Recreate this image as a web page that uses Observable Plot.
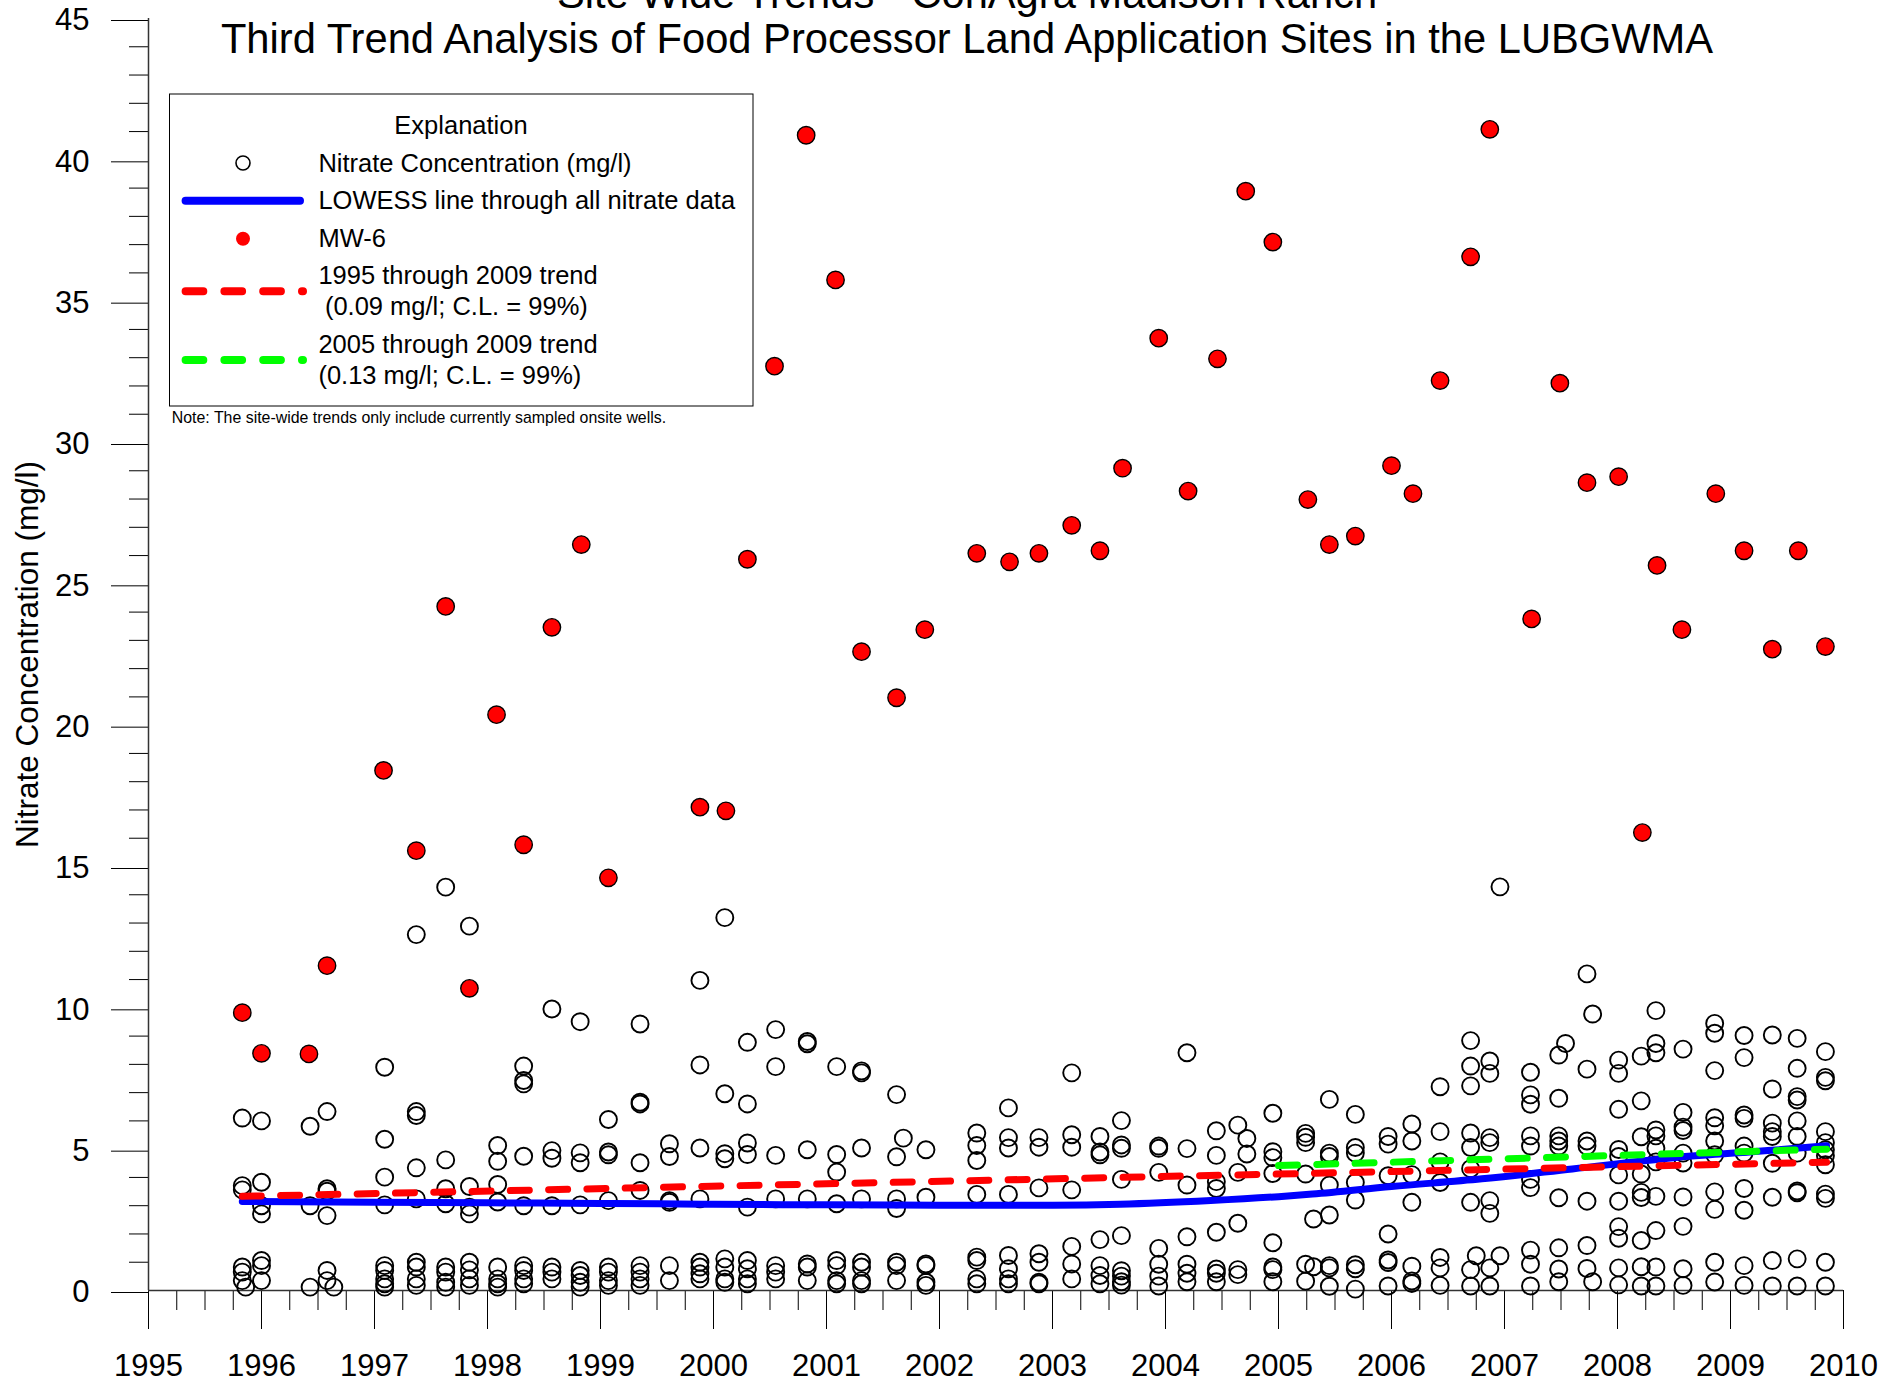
<!DOCTYPE html>
<html><head><meta charset="utf-8">
<script src="https://cdn.jsdelivr.net/npm/d3@7"></script>
<script src="https://cdn.jsdelivr.net/npm/@observablehq/plot@0.6"></script>
<style>html,body{margin:0;padding:0;background:#fff;} svg{display:block;}</style>
</head><body>
<script>
const FONT = "'Liberation Sans', Arial, Helvetica, sans-serif";

// ---- tick labels / axes
const yearTicks = d3.range(1995, 2011);
const quarterTicks = d3.range(1995, 2010.001, 0.25).filter(d => d % 1 !== 0);
const yMajorTicks = d3.range(0, 46, 5);
const yMinorTicks = d3.range(0, 46).filter(d => d % 5 !== 0);

// ---- all-wells nitrate concentrations (mg/l), grouped by sample date
const nitrateDates = [1995.83,1995.86,1996.00,1996.43,1996.58,1996.64,1997.09,1997.37,1997.63,1997.84,
  1998.09,1998.32,1998.57,1998.82,1999.07,1999.35,1999.61,1999.88,2000.10,2000.30,2000.55,2000.83,
  2001.09,2001.31,2001.62,2001.68,2001.88,2002.33,2002.61,2002.88,2003.17,2003.42,2003.61,2003.94,
  2004.19,2004.45,2004.64,2004.72,2004.95,2005.24,2005.31,2005.45,2005.68,2005.97,2006.18,2006.43,
  2006.70,2006.75,2006.87,2006.96,2007.23,2007.48,2007.54,2007.73,2007.78,2008.01,2008.21,2008.34,
  2008.58,2008.86,2009.12,2009.37,2009.59,2009.84];
const nitrateValues = [
  [6.10,3.71,3.56,0.83,0.65,0.35],
  [0.12],
  [6.0,3.83,3.0,2.71,1.06,0.88,0.35],
  [5.81,3.0,0.12],
  [6.33,3.60,3.51,2.65,0.71,0.35],
  [0.12],
  [7.90,5.35,4.01,3.03,0.88,0.71,0.41,0.24,0.12],
  [12.59,6.33,6.19,4.34,3.24,1.0,0.83,0.41,0.18],
  [14.27,4.62,3.60,3.07,0.83,0.65,0.29,0.12],
  [12.89,3.68,2.95,2.71,1.0,0.73,0.41,0.18],
  [5.13,4.57,3.75,3.13,0.83,0.41,0.24,0.12],
  [7.94,7.43,7.31,4.75,3.0,0.88,0.71,0.41,0.24],
  [9.96,4.95,4.68,3.0,0.83,0.65,0.41],
  [9.51,4.87,4.52,3.03,0.71,0.53,0.29,0.12],
  [6.05,4.9,4.8,3.18,0.83,0.65,0.35,0.18],
  [9.43,6.66,6.6,4.52,3.54,0.88,0.65,0.41,0.18],
  [5.19,4.74,3.18,3.12,0.88,0.35],
  [10.97,7.98,5.04,3.24,1.0,0.83,0.59,0.41],
  [13.19,6.96,4.84,4.66,1.12,0.83,0.41,0.29],
  [8.78,6.6,5.22,4.81,2.95,1.06,0.77,0.41,0.24],
  [9.23,7.92,4.78,3.24,0.88,0.65,0.41],
  [8.81,8.73,4.98,3.24,0.94,0.83,0.35],
  [7.92,4.81,4.19,3.07,1.06,0.88,0.35,0.24],
  [7.77,7.7,5.04,3.24,1.0,0.83,0.35,0.24],
  [6.93,4.73,3.24,2.9,1.0,0.88,0.35],
  [5.39],
  [4.98,3.3,0.94,0.88,0.29,0.18],
  [5.57,5.13,4.6,3.4,1.18,1.06,0.41,0.24],
  [6.46,5.41,5.04,3.4,1.24,0.77,0.41,0.24],
  [5.41,5.07,3.63,1.3,1.0,0.29,0.24],
  [7.7,5.51,5.07,3.56,1.56,0.94,0.41],
  [5.45,4.9,4.8,1.8,0.88,0.53,0.24],
  [6.01,5.15,5.03,3.93,1.94,0.70,0.51,0.31,0.19],
  [5.11,5.03,4.18,1.49,0.93,0.51,0.16],
  [8.41,5.02,3.73,1.9,0.93,0.61,0.31],
  [5.65,4.78,3.85,3.61,2.06,0.76,0.61,0.31],
  [5.85,4.18,2.38,0.74,0.56],
  [5.38,4.83],
  [6.27,4.91,4.7,4.14,1.69,0.83,0.74,0.31],
  [5.56,5.42,5.23,4.12,0.93,0.33],
  [2.53,0.84],
  [6.76,4.86,4.74,3.73,2.67,0.88,0.80,0.15],
  [6.23,5.06,4.86,3.82,3.2,0.91,0.77,0.05],
  [5.45,5.18,4.06,2.0,1.08,0.99,0.16],
  [5.89,5.29,4.1,3.12,0.86,0.34,0.25],
  [7.21,5.62,4.55,3.82,1.17,0.8,0.18],
  [8.84,7.94,7.24,5.57,5.06,4.31,3.12,0.74,0.16],
  [1.23],
  [8.12,7.68,5.41,5.23,3.18,2.73,0.80,0.16],
  [14.28,1.23],
  [7.72,6.92,6.59,5.47,5.11,3.93,3.64,1.43,0.93,0.16],
  [8.33,6.8,5.47,5.29,5.11,3.28,1.51,0.76,0.31],
  [8.74],
  [11.2,7.83,5.29,5.11,3.16,1.59,0.78],
  [9.78,0.31],
  [8.15,7.68,6.41,4.99,4.74,4.09,3.16,2.26,1.85,0.80,0.2],
  [8.29,6.71,5.44,4.12,3.47,3.29,1.77,0.84,0.16],
  [9.9,8.74,8.41,5.68,5.47,5.03,4.55,3.33,2.12,0.83,0.16],
  [8.54,6.3,5.78,5.66,4.86,4.51,3.31,2.27,0.77,0.18],
  [9.45,9.1,7.78,6.11,5.83,5.29,4.8,3.49,2.87,1.0,0.3],
  [9.02,8.24,6.21,6.09,5.11,4.86,3.61,2.84,0.88,0.18],
  [9.04,7.13,5.92,5.62,5.45,4.5,3.3,1.06,0.16],
  [8.92,7.86,6.86,6.74,6.0,5.45,4.86,3.52,3.46,1.12,0.16],
  [8.45,7.54,7.42,5.62,5.23,4.98,4.77,4.45,3.41,3.26,1.0,0.16]
];

// ---- MW-6
const mw6Dates = [1995.83,1996.00,1996.42,1996.58,1997.08,1997.37,1997.63,1997.84,1998.08,1998.32,
  1998.57,1998.83,1999.07,1999.88,2000.11,2000.30,2000.54,2000.82,2001.08,2001.31,2001.62,2001.87,
  2002.33,2002.62,2002.88,2003.17,2003.42,2003.62,2003.94,2004.20,2004.46,2004.71,2004.95,2005.26,
  2005.45,2005.68,2006.00,2006.19,2006.43,2006.70,2006.87,2007.24,2007.49,2007.73,2008.01,2008.22,
  2008.35,2008.57,2008.87,2009.12,2009.37,2009.60,2009.84];
const mw6Values = [9.83,8.39,8.37,11.49,18.4,15.56,24.2,10.69,20.37,15.77,
  23.46,26.39,14.6,17.1,16.97,25.87,32.7,40.87,35.75,22.6,20.97,23.38,
  26.08,25.78,26.08,27.07,26.17,29.09,33.69,28.28,32.96,38.89,37.09,27.98,
  26.39,26.69,29.18,28.19,32.19,36.57,41.08,23.76,32.1,28.58,28.79,16.2,
  25.65,23.38,28.19,26.17,22.69,26.17,22.78];

// ---- LOWESS line through all nitrate data
const lowessDates  = [1995.83,1997.0,1998.0,1999.0,2000.0,2001.0,2002.0,2003.0,2003.6,2004.4,2005.0,2005.3,2006.0,2006.8,2007.6,2008.5,2009.4,2009.85];
const lowessValues = [3.15,3.12,3.10,3.08,3.05,3.03,3.02,3.02,3.05,3.18,3.32,3.41,3.68,3.95,4.30,4.70,4.97,5.12];

// ---- trends
const trend1995Dates = [1995.83, 2009.85];
const trend1995Values = [3.33, 4.54];
const trend2005Dates = [2005.0, 2009.85];
const trend2005Values = [4.42, 5.0];

// ---- texts
const titleLines = ["Site Wide Trends - ConAgra Madison Ranch",
  "Third Trend Analysis of Food Processor Land Application Sites in the LUBGWMA"];
const yTitle = "Nitrate Concentration (mg/l)";
const legendTitle = "Explanation";
const legendLabels = ["Nitrate Concentration (mg/l)", "LOWESS line through all nitrate data", "MW-6",
  "1995 through 2009 trend", "(0.09 mg/l; C.L. = 99%)", "2005 through 2009 trend", "(0.13 mg/l; C.L. = 99%)"];
const noteText = "Note: The site-wide trends only include currently sampled onsite wells.";

// ---- tables
const nitrateTable = nitrateDates.flatMap((d, i) => nitrateValues[i].map(v => ({date: d, value: v})));
const mw6Table = mw6Dates.map((d, i) => ({date: d, value: mw6Values[i]}));
const lowessTable = lowessDates.map((d, i) => ({date: d, value: lowessValues[i]}));
const t1Table = trend1995Dates.map((d, i) => ({date: d, value: trend1995Values[i]}));
const t2Table = trend2005Dates.map((d, i) => ({date: d, value: trend2005Values[i]}));

const RED = "#ff0000", BLUE = "#0000ff", GREEN = "#00ff00";

const plot = Plot.plot({
  width: 1904, height: 1386,
  marginLeft: 148, marginRight: 61, marginTop: 18, marginBottom: 96,
  style: {fontFamily: FONT, background: "white", color: "black", overflow: "visible"},
  x: {domain: [1995, 2010], axis: null, label: null},
  y: {domain: [0, 45], axis: null, label: null},
  marks: [
    Plot.axisY(yMinorTicks, {tickSize: 19, tickFormat: () => "", label: null, stroke: "black"}),
    Plot.axisY(yMajorTicks, {tickSize: 37, tickPadding: 22, fontSize: 31, dy: 2, tickFormat: d => String(d), label: null, stroke: "black"}),
    Plot.axisX(quarterTicks, {tickSize: 20, tickFormat: () => "", label: null, stroke: "black"}),
    Plot.axisX(yearTicks, {tickSize: 39, tickPadding: 24, fontSize: 31, tickFormat: d => String(d), label: null, stroke: "black"}),
    Plot.ruleY([0], {stroke: "#333", strokeWidth: 1.5}),
    Plot.ruleX([1995], {stroke: "#333", strokeWidth: 1.5}),
    Plot.dot(nitrateTable, {x: "date", y: "value", r: 8.5, stroke: "black", strokeWidth: 1.9, fill: "none"}),
    Plot.line(lowessTable, {x: "date", y: "value", stroke: BLUE, strokeWidth: 7, curve: "monotone-x", strokeLinecap: "round"}),
    Plot.line(t1Table, {x: "date", y: "value", stroke: RED, strokeWidth: 7, strokeDasharray: "19,19.3", strokeLinecap: "round"}),
    Plot.line(t2Table, {x: "date", y: "value", stroke: GREEN, strokeWidth: 7, strokeDasharray: "19,19.3", strokeLinecap: "round"}),
    Plot.dot(mw6Table, {x: "date", y: "value", r: 8.7, fill: RED, stroke: "black", strokeWidth: 1.4}),
    Plot.text([yTitle], {frameAnchor: "left", textAnchor: "middle", rotate: -90, dx: -121, fontSize: 31.5, fill: "black"})
  ]
});
document.body.appendChild(plot);

// ---- titles and legend (layout annotations)
const svg = d3.select(plot);
const g = svg.append("g").attr("font-family", FONT).attr("fill", "black").attr("text-anchor", "start");
g.append("text").attr("x", 967).attr("y", 8).attr("text-anchor", "middle").attr("font-size", 41.7).text(titleLines[0]);
g.append("text").attr("x", 967).attr("y", 53).attr("text-anchor", "middle").attr("font-size", 41.7).text(titleLines[1]);

const lg = g.append("g");
lg.append("rect").attr("x", 169.5).attr("y", 94).attr("width", 583.5).attr("height", 312)
  .attr("fill", "white").attr("stroke", "black").attr("stroke-width", 1);
const LFS = 25.5, TX = 318.4;
lg.append("text").attr("x", 461).attr("y", 134).attr("text-anchor", "middle").attr("font-size", LFS).text(legendTitle);
lg.append("circle").attr("cx", 243).attr("cy", 163).attr("r", 7).attr("fill", "none").attr("stroke", "black").attr("stroke-width", 1.6);
lg.append("text").attr("x", TX).attr("y", 172).attr("font-size", LFS).text(legendLabels[0]);
lg.append("line").attr("x1", 185.6).attr("x2", 300).attr("y1", 200.7).attr("y2", 200.7)
  .attr("stroke", BLUE).attr("stroke-width", 8).attr("stroke-linecap", "round");
lg.append("text").attr("x", TX).attr("y", 209.3).attr("font-size", LFS).text(legendLabels[1]);
lg.append("circle").attr("cx", 243).attr("cy", 238.7).attr("r", 7).attr("fill", RED);
lg.append("text").attr("x", TX).attr("y", 247.3).attr("font-size", LFS).text(legendLabels[2]);
lg.append("line").attr("x1", 185.6).attr("x2", 303).attr("y1", 291.3).attr("y2", 291.3)
  .attr("stroke", RED).attr("stroke-width", 8).attr("stroke-linecap", "round").attr("stroke-dasharray", "17.7,21.1");
lg.append("text").attr("x", TX).attr("y", 284).attr("font-size", LFS).text(legendLabels[3]);
lg.append("text").attr("x", TX + 6.5).attr("y", 315).attr("font-size", LFS).text(legendLabels[4]);
lg.append("line").attr("x1", 185.6).attr("x2", 303).attr("y1", 360).attr("y2", 360)
  .attr("stroke", GREEN).attr("stroke-width", 8).attr("stroke-linecap", "round").attr("stroke-dasharray", "17.7,21.1");
lg.append("text").attr("x", TX).attr("y", 353.3).attr("font-size", LFS).text(legendLabels[5]);
lg.append("text").attr("x", TX).attr("y", 384).attr("font-size", LFS).text(legendLabels[6]);
g.append("text").attr("x", 171.8).attr("y", 423.3).attr("font-size", 15.9).text(noteText);
</script>
</body></html>
